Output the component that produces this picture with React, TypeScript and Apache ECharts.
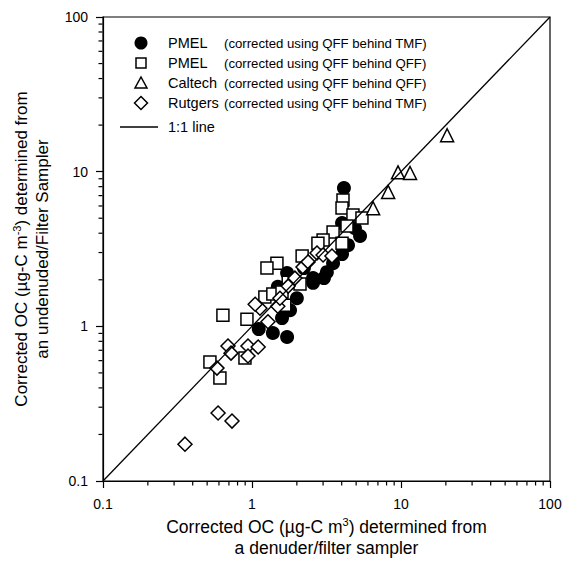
import React, { useEffect, useRef } from "react";
import * as echarts from "echarts";

// PMEL (corrected using QFF behind TMF) - filled circles
const pmelTmf: [number, number][] = [
  [4.14, 7.83], [4.02, 4.65], [4.91, 4.31], [5.31, 3.84], [4.41, 3.35],
  [4.02, 2.93], [3.5, 2.56], [3.18, 2.24], [2.57, 2.05], [3.04, 2.05],
  [2.23, 2.38], [1.72, 2.21], [1.49, 1.8], [2.0, 1.52], [1.8, 1.27],
  [1.59, 1.13], [1.11, 0.96], [1.38, 0.905], [1.72, 0.853], [2.57, 1.91],
];
// PMEL (corrected using QFF behind QFF) - open squares
const pmelQff: [number, number][] = [
  [4.08, 6.55], [4.02, 5.82], [4.76, 5.24], [5.47, 5.01], [4.34, 4.45],
  [3.5, 4.07], [4.02, 3.45], [3.0, 3.61], [2.77, 3.45], [2.17, 2.85],
  [1.47, 2.56], [1.26, 2.38], [1.75, 1.93], [1.22, 1.55], [1.38, 1.62],
  [1.59, 1.67], [1.66, 1.37], [0.638, 1.18], [0.925, 1.11], [0.522, 0.588],
  [0.609, 0.464], [0.897, 0.624], [2.1, 1.88],
];
// Caltech - open triangles
const caltech: [number, number][] = [
  [20.4, 17.2], [9.55, 9.9], [11.5, 9.8], [8.2, 7.4], [6.5, 5.8],
];
// Rutgers - open diamonds
const rutgers: [number, number][] = [
  [0.355, 0.173], [0.592, 0.275], [0.734, 0.244], [0.582, 0.537], [0.69, 0.746],
  [0.723, 0.671], [0.94, 0.746], [1.1, 0.735], [0.94, 0.643], [1.13, 1.31],
  [1.28, 1.07], [1.49, 1.35], [1.75, 1.82], [1.94, 2.05], [2.2, 2.42],
  [2.38, 2.61], [2.73, 2.98], [3.0, 2.89], [3.44, 2.85], [1.54, 1.52],
  [1.05, 1.39],
];
const oneToOne: [number, number][] = [[0.1, 0.1], [100, 100]];

const axisMin = 0.1;
const axisMax = 100;
const minorTicks = [
  0.2, 0.3, 0.4, 0.5, 0.6, 0.7, 0.8, 0.9,
  2, 3, 4, 5, 6, 7, 8, 9,
  20, 30, 40, 50, 60, 70, 80, 90,
];

const legendMain = ["PMEL", "PMEL", "Caltech", "Rutgers", "1:1 line"];
const legendSub = [
  "(corrected using QFF behind TMF)",
  "(corrected using QFF behind QFF)",
  "(corrected using QFF behind QFF)",
  "(corrected using QFF behind TMF)",
  "",
];

const FONT = "'Liberation Sans', Arial, sans-serif";

export default function App() {
  const ref = useRef<HTMLDivElement>(null);
  useEffect(() => {
    if (!ref.current) return;
    const chart = echarts.init(ref.current, undefined, { renderer: "svg" });
    const markerStyle = { color: "#fff", borderColor: "#000", borderWidth: 1.5, opacity: 1 };
    const baseAxis = {
      type: "log" as const,
      logBase: 10,
      min: axisMin,
      max: axisMax,
      splitLine: { show: false },
    };

    // legend drawn as graphic
    const rowY = [43, 63, 83, 103, 127];
    const mx = 141;
    const stroke = { stroke: "#000", lineWidth: 1.5, fill: "#fff" };
    const legendEls: any[] = [
      { type: "circle", shape: { cx: mx, cy: rowY[0], r: 6.5 }, style: { fill: "#000" } },
      { type: "rect", shape: { x: mx - 5, y: rowY[1] - 5, width: 10, height: 10 }, style: stroke },
      {
        type: "polygon",
        shape: { points: [[mx, rowY[2] - 6], [mx + 6, rowY[2] + 5], [mx - 6, rowY[2] + 5]] },
        style: stroke,
      },
      {
        type: "polygon",
        shape: { points: [[mx, rowY[3] - 6.5], [mx + 6.5, rowY[3]], [mx, rowY[3] + 6.5], [mx - 6.5, rowY[3]]] },
        style: stroke,
      },
      { type: "line", shape: { x1: 120, y1: rowY[4], x2: 158, y2: rowY[4] }, style: { stroke: "#000", lineWidth: 1.3 } },
    ];
    legendMain.forEach((t, i) => {
      legendEls.push({
        type: "text", x: 168, y: rowY[i],
        style: { text: t, fontSize: 14.5, fontFamily: FONT, fill: "#000", verticalAlign: "middle" },
      });
      if (legendSub[i]) {
        legendEls.push({
          type: "text", x: 224, y: rowY[i],
          style: { text: legendSub[i], fontSize: 13.2, fontFamily: FONT, fill: "#000", verticalAlign: "middle" },
        });
      }
    });

    // minor log ticks, positioned through the axes' own scale
    const tickSeries = (data: [number, number][], size: number[], offset: number[]) => ({
      type: "scatter",
      silent: true,
      clip: false,
      z: 6,
      data,
      symbol: "rect",
      symbolSize: size,
      symbolOffset: offset,
      itemStyle: { color: "#000", opacity: 1, borderWidth: 0 },
    });

    chart.setOption({
      animation: false,
      backgroundColor: "#fff",
      textStyle: { fontFamily: FONT, color: "#000" },
      grid: {
        left: 103, top: 17, right: 19, bottom: 82,
        show: true, borderColor: "#000", borderWidth: 1.2, backgroundColor: "transparent",
      },
      graphic: legendEls,
      xAxis: {
        ...baseAxis,
        position: "bottom",
        axisLine: { show: true, lineStyle: { color: "#000", width: 1.2 } },
        axisTick: { show: true, length: 7, lineStyle: { color: "#000", width: 1.2 } },
        axisLabel: { fontSize: 14, color: "#000", fontFamily: FONT, margin: 16 },
        name: "Corrected OC (µg-C m{sup|3}) determined from\na denuder/filter sampler",
        nameLocation: "middle",
        nameGap: 35,
        nameTextStyle: {
          fontSize: 17.5, fontFamily: FONT, color: "#000", lineHeight: 21,
          rich: { sup: { fontSize: 11, verticalAlign: "top", lineHeight: 12, padding: [0, 0, 8, 0] } },
        },
      },
      yAxis: {
        ...baseAxis,
        position: "left",
        axisLine: { show: true, lineStyle: { color: "#000", width: 1.2 } },
        axisTick: { show: true, length: 7, lineStyle: { color: "#000", width: 1.2 } },
        axisLabel: { fontSize: 14, color: "#000", fontFamily: FONT, margin: 15 },
        name: "Corrected OC (µg-C m{sup|-3}) determined from\nan undenuded/Filter Sampler",
        nameLocation: "middle",
        nameGap: 50,
        nameTextStyle: {
          fontSize: 17, fontFamily: FONT, color: "#000", lineHeight: 21,
          rich: { sup: { fontSize: 11, verticalAlign: "top", lineHeight: 12, padding: [0, 0, 8, 0] } },
        },
      },
      series: [
        {
          name: "PMEL (corrected using QFF behind TMF)", type: "scatter", data: pmelTmf,
          symbol: "circle", symbolSize: 14,
          itemStyle: { color: "#000", borderColor: "#000", borderWidth: 0, opacity: 1 },
        },
        {
          name: "PMEL (corrected using QFF behind QFF)", type: "scatter", data: pmelQff,
          symbol: "rect", symbolSize: 12, itemStyle: markerStyle,
        },
        {
          name: "Caltech (corrected using QFF behind QFF)", type: "scatter", data: caltech,
          symbol: "triangle", symbolSize: 13, itemStyle: markerStyle,
        },
        {
          name: "Rutgers (corrected using QFF behind TMF)", type: "scatter", data: rutgers,
          symbol: "diamond", symbolSize: 14, itemStyle: markerStyle,
        },
        {
          name: "1:1 line", type: "line", data: oneToOne,
          symbol: "none", z: 5,
          lineStyle: { color: "#000", width: 1.3 },
        },
        tickSeries(minorTicks.map((v) => [v, axisMin] as [number, number]), [1.2, 4], [0, 2.5]),
        tickSeries(minorTicks.map((v) => [axisMin, v] as [number, number]), [4, 1.2], [-2.5, 0]),
      ],
    });
    return () => chart.dispose();
  }, []);
  return (
    <div
      ref={ref}
      style={{ position: "fixed", left: 0, top: 0, width: 569, height: 563, background: "#fff" }}
    />
  );
}
